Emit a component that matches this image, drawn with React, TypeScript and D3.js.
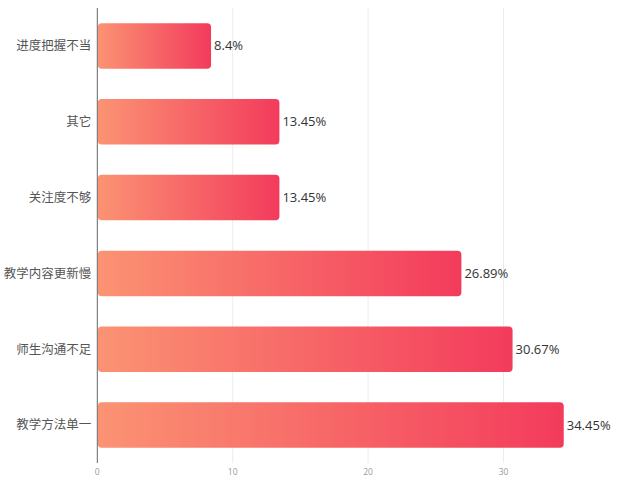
import React from "react";
import * as d3 from "d3";

const categories = ["进度把握不当", "其它", "关注度不够", "教学内容更新慢", "师生沟通不足", "教学方法单一"];
const values = [8.4, 13.45, 13.45, 26.89, 30.67, 34.45];
const xTicks = [0, 10, 20, 30];

export default function App() {
    const width = 622;
    const height = 481;
    const marginTop = 8;
    const marginBottom = 18;
    const marginLeft = 97.3;

    const x = d3.scaleLinear([0, 10], [marginLeft, marginLeft + 135.4]);
    const y = d3.scaleBand(categories, [marginTop, height - marginBottom]).paddingInner(0.4).paddingOuter(0.2);

    return (
        <svg width={width} height={height} style={{position: "absolute", left: 0, top: 0}}>
            <defs>
                <linearGradient id="barGrad" x1="0" y1="0" x2="1" y2="0">
                    <stop offset="0%" stopColor="#fb9373"/>
                    <stop offset="100%" stopColor="#f33b5c"/>
                </linearGradient>
            </defs>
            <g>
                {xTicks.filter(t => t > 0).map(t => (
                    <line key={t} x1={x(t)} x2={x(t)} y1={marginTop} y2={height - marginBottom}
                          stroke="#ececec" strokeWidth={1}/>
                ))}
            </g>
            <g>
                {categories.map((c, i) => (
                    <g key={c}>
                        <rect x={x(0) + 0.5} y={y(c)} width={x(values[i]) - x(0) - 0.5} height={y.bandwidth()}
                              rx={4} ry={4} fill="url(#barGrad)"/>
                        <text x={x(values[i]) + 3} y={(y(c) as number) + y.bandwidth() / 2} dy="0.35em"
                              fontSize={13} fill="#333" fontFamily="'Open Sans', 'Noto Sans CJK SC', sans-serif">
                            {values[i] + "%"}
                        </text>
                        <text x={marginLeft - 6} y={(y(c) as number) + y.bandwidth() / 2} dy="0.35em"
                              textAnchor="end" fontSize={12.5} fill="#555"
                              fontFamily="'Noto Sans CJK SC', sans-serif">
                            {c}
                        </text>
                    </g>
                ))}
            </g>
            <line x1={marginLeft} x2={marginLeft} y1={marginTop} y2={height - marginBottom} stroke="#666" strokeWidth={1}/>
            <g>
                {xTicks.map(t => (
                    <text key={t} x={x(t)} y={472} dy="0.35em" textAnchor="middle" fontSize={8.5} fill="#999"
                          fontFamily="'Open Sans', sans-serif">
                        {t}
                    </text>
                ))}
            </g>
        </svg>
    );
}
